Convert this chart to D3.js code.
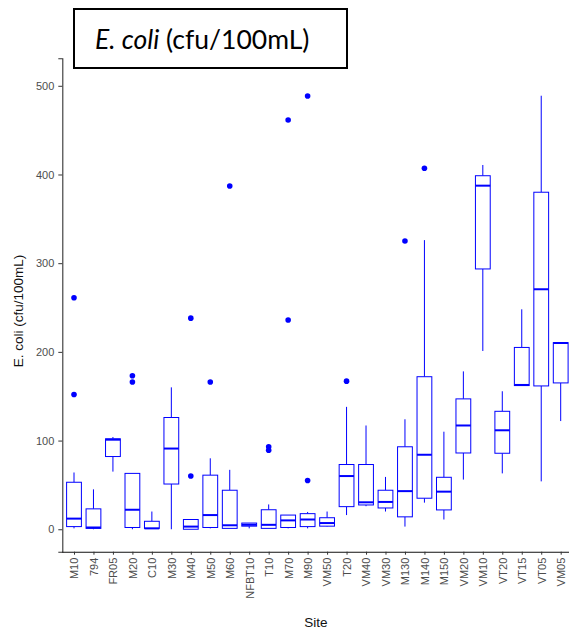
<!DOCTYPE html>
<html>
<head>
<meta charset="utf-8">
<style>
  body { margin: 0; background: #fff; }
  svg text { font-family: "Liberation Sans", Arial, sans-serif; }
</style>
</head>
<body>
<div id="container"></div>
<script src="https://cdn.jsdelivr.net/npm/d3@7"></script>
<script>

// site order along the x axis
const sites = ["M10", "794", "FR05", "M20", "C10", "M30", "M40", "M50", "M60", "NFBT10",
  "T10", "M70", "M90", "VM50", "T20", "VM40", "VM30", "M130", "M140", "M150",
  "VM20", "VM10", "VT20", "VT15", "VT05", "VM05"];

// box statistics (cfu/100mL)
const lowWhisker = [1, 0, 65, 0, 1, 0, 0, 1, 1, 1, 1, 1, 1, 3, 16, 26, 20, 3, 30, 11, 56, 201, 63, 162, 54, 122];
const q1 = [3, 1, 82, 2, 1, 51, 0, 2, 1, 3.5, 1, 2, 3, 3.5, 25.5, 27.4, 24, 14, 35, 21.8, 86, 293.5, 85.7, 162, 161.6, 165];
const medians = [12, 2, 101, 22, 1, 91, 3, 16, 4.5, 5, 5, 10, 11, 7, 60, 30.4, 30.8, 43, 84, 42.4, 117, 387.4, 111.6, 162.7, 270.6, 210];
const q3 = [53, 23, 102, 63, 9, 126, 11, 61, 44, 7, 22, 16, 17.6, 13, 73, 73, 44, 93, 172, 58.6, 147, 398.6, 133, 205, 380, 210.4];
const highWhisker = [64, 45, 104, 63, 20, 160, 11, 80, 67, 7, 28, 16, 19.5, 20, 138, 117, 59, 124, 326, 110, 178, 410.7, 155.6, 248, 488.8, 210.4];
const outliers = [[261, 152], [], [], [173, 166], [], [], [238, 60], [166], [387], [],
  [93, 89], [461.5, 236], [488.5, 55], [], [167], [], [], [325], [407], [],
  [], [], [], [], [], []];

const yTicks = [0, 100, 200, 300, 400, 500];

const width = 569, height = 632;
const blue = "#0000ff";

const svg = d3.select("#container").append("svg")
  .attr("width", width)
  .attr("height", height);

const x = d3.scalePoint()
  .domain(sites)
  .range([74, 560.7]);

const y = d3.scaleLinear()
  .domain([-25.3, 531])
  .range([551.7, 58.3]);

const boxW = 0.76 * x.step();
const axisX = 62.3;

// axes
const yAxis = svg.append("g")
  .attr("transform", "translate(" + axisX + ",0)")
  .call(d3.axisLeft(y).tickValues(yTicks).tickSize(4).tickPadding(4));
yAxis.select(".domain").attr("stroke", "#333").attr("stroke-width", 1.1);
yAxis.selectAll(".tick line").attr("stroke", "#333");
yAxis.selectAll(".tick text").attr("fill", "#4d4d4d").attr("font-size", 11);

const xAxis = svg.append("g")
  .attr("transform", "translate(0,551.7)")
  .call(d3.axisBottom(x).tickSize(3).tickPadding(3));
xAxis.select(".domain").attr("d", "M" + axisX + ",0.5H569").attr("stroke", "#111").attr("stroke-width", 1.1);
xAxis.selectAll(".tick line").attr("stroke", "#333");
xAxis.selectAll(".tick text")
  .attr("fill", "#4d4d4d")
  .attr("font-size", 11)
  .attr("transform", "rotate(-90)")
  .attr("text-anchor", "end")
  .attr("dy", "0.35em")
  .attr("x", -6)
  .attr("y", 0);

// boxes
const g = svg.append("g");
sites.forEach((s, i) => {
  const cx = x(s);
  g.append("line")
    .attr("x1", cx).attr("x2", cx)
    .attr("y1", y(highWhisker[i])).attr("y2", y(q3[i]))
    .attr("stroke", blue).attr("stroke-width", 1);
  g.append("line")
    .attr("x1", cx).attr("x2", cx)
    .attr("y1", y(q1[i])).attr("y2", y(lowWhisker[i]))
    .attr("stroke", blue).attr("stroke-width", 1);
  g.append("rect")
    .attr("x", cx - boxW / 2)
    .attr("y", y(q3[i]))
    .attr("width", boxW)
    .attr("height", Math.max(0.5, y(q1[i]) - y(q3[i])))
    .attr("fill", "white")
    .attr("stroke", blue).attr("stroke-width", 1);
  g.append("line")
    .attr("x1", cx - boxW / 2).attr("x2", cx + boxW / 2)
    .attr("y1", y(medians[i])).attr("y2", y(medians[i]))
    .attr("stroke", blue).attr("stroke-width", 2);
  g.selectAll(null)
    .data(outliers[i])
    .join("circle")
    .attr("cx", cx)
    .attr("cy", d => y(d))
    .attr("r", 2.8)
    .attr("fill", blue);
});

// axis titles
svg.append("text")
  .attr("x", 316)
  .attr("y", 626.5)
  .attr("text-anchor", "middle")
  .attr("font-size", 13.5)
  .attr("fill", "#111")
  .text("Site");

svg.append("text")
  .attr("transform", "translate(22.5,311) rotate(-90)")
  .attr("text-anchor", "middle")
  .attr("font-size", 13.5)
  .attr("fill", "#111")
  .text("E. coli (cfu/100mL)");

// title box
const tb = svg.append("g");
tb.append("rect")
  .attr("x", 74).attr("y", 9)
  .attr("width", 273).attr("height", 59)
  .attr("fill", "white")
  .attr("stroke", "black").attr("stroke-width", 2);
const tt = tb.append("text")
  .attr("x", 95).attr("y", 49)
  .style("font-family", "Lato, 'Open Sans', sans-serif")
  .attr("font-size", 26.5)
  .attr("fill", "#000");
tt.append("tspan").attr("font-style", "italic").text("E. coli");
tt.append("tspan").text(" (cfu/100mL)");

</script>
</body>
</html>
